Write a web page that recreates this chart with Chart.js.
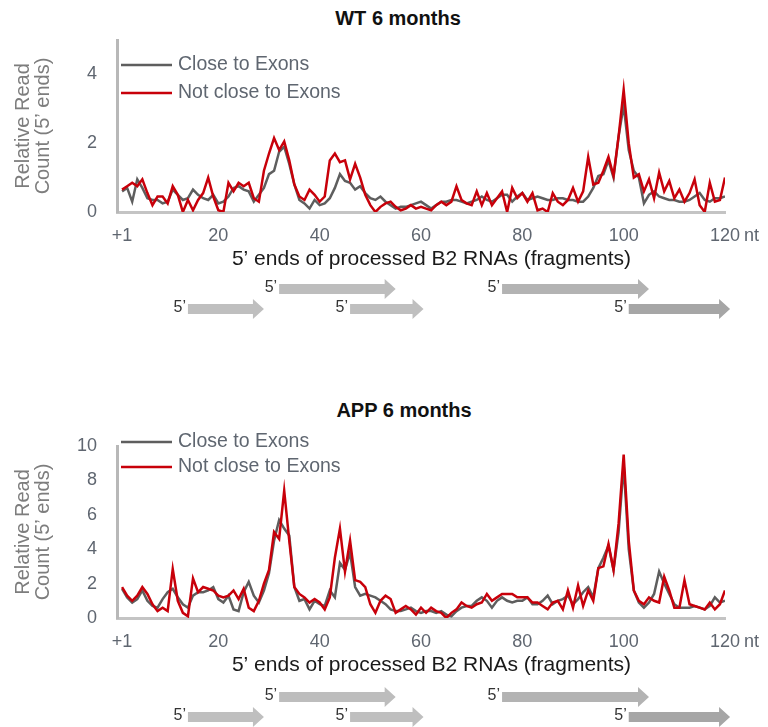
<!DOCTYPE html>
<html>
<head>
<meta charset="utf-8">
<title>5' ends of processed B2 RNAs</title>
<script src="https://cdn.jsdelivr.net/npm/chart.js@4.4.1/dist/chart.umd.min.js"></script>
<style>
  html, body { margin: 0; padding: 0; background: #fff; }
  body { width: 768px; height: 727px; overflow: hidden; position: relative; font-family: "Liberation Sans", Arial, sans-serif; }
  .panel-title { position: absolute; transform: translate(-50%, -50%); font-weight: bold; font-size: 20px; color: #111; white-space: nowrap; }
  canvas { position: absolute; left: 0; }
</style>
</head>
<body>
<div class="panel-title" style="left:398px; top:18px">WT 6 months</div>
<canvas id="wtChart" width="768" height="340" style="top:0"></canvas>
<div class="panel-title" style="left:404px; top:410px">APP 6 months</div>
<canvas id="appChart" width="768" height="340" style="top:406px"></canvas>
<script>
// nt positions 1..120 (x axis categories)
const positions = Array.from({ length: 120 }, (_, i) => i + 1);
const xTicks = [1, 20, 40, 60, 80, 100, 120];
const wtTicks = [0, 2, 4];
const appTicks = [0, 2, 4, 6, 8, 10];

// WT 6 months
const wtClose = [
  0.6, 0.7, 0.3, 0.95, 0.7, 0.4, 0.35, 0.35, 0.25, 0.3,
  0.65, 0.5, 0.35, 0.4, 0.65, 0.5, 0.4, 0.35, 0.5, 0.25,
  0.3, 0.45, 0.7, 0.75, 0.65, 0.6, 0.3, 0.5, 0.7, 1.1,
  1.2, 1.75, 1.9, 1.4, 0.8, 0.35, 0.25, 0.1, 0.35, 0.2,
  0.25, 0.4, 0.7, 1.1, 0.9, 0.85, 0.65, 0.75, 0.55, 0.4,
  0.35, 0.45, 0.3, 0.2, 0.1, 0.15, 0.15, 0.2, 0.25, 0.3,
  0.2, 0.1, 0.2, 0.3, 0.3, 0.35, 0.35, 0.3, 0.25, 0.3,
  0.35, 0.45, 0.35, 0.3, 0.4, 0.5, 0.5, 0.3, 0.45, 0.55,
  0.35, 0.4, 0.45, 0.4, 0.35, 0.35, 0.4, 0.4, 0.35, 0.35,
  0.3, 0.3, 0.45, 0.7, 1.05, 1.1, 1.5, 1.0, 2.2, 3.1,
  1.8, 1.2, 1.0, 0.25, 0.5, 0.6, 0.45, 0.4, 0.35, 0.35,
  0.3, 0.3, 0.35, 0.45, 0.55, 0.35, 0.3, 0.4, 0.4, 0.45
];
const wtNotClose = [
  0.65, 0.75, 0.85, 0.75, 0.95, 0.55, 0.2, 0.45, 0.45, 0.25,
  0.75, 0.5, 0.0, 0.35, 0.05, 0.35, 0.55, 1.0, 0.45, 0.05,
  0.0, 0.85, 0.6, 0.85, 0.75, 0.85, 0.4, 0.3, 1.2, 1.7,
  2.15, 1.8, 2.05, 1.5, 0.8, 0.45, 0.35, 0.65, 0.5, 0.3,
  0.45, 1.5, 1.7, 1.45, 1.5, 0.95, 1.4, 1.0, 0.5, 0.2,
  0.0, 0.15, 0.25, 0.3, 0.15, 0.05, 0.1, 0.2, 0.1, 0.15,
  0.1, 0.05, 0.2, 0.3, 0.2, 0.3, 0.75, 0.35, 0.25, 0.2,
  0.6, 0.2, 0.55, 0.2, 0.4, 0.6, 0.0, 0.7, 0.4, 0.55,
  0.3, 0.55, 0.05, 0.1, 0.0, 0.55, 0.3, 0.2, 0.35, 0.7,
  0.3, 0.6, 1.6, 0.8, 0.85, 1.2, 1.6, 1.05, 2.2, 3.55,
  2.0, 1.0, 1.1, 0.6, 0.95, 0.4, 1.15, 0.6, 0.9, 0.4,
  0.65, 0.3, 0.55, 0.95, 0.2, 0.0, 0.85, 0.3, 0.35, 1.0
];

// APP 6 months
const appClose = [
  1.7, 1.2, 0.9, 1.1, 1.6, 1.0, 0.7, 0.6, 1.1, 1.5,
  1.7, 1.2, 0.8, 0.6, 1.3, 1.5, 1.5, 1.6, 1.8, 1.1,
  0.9, 1.3, 0.5, 0.4, 1.5, 2.1, 1.3, 0.9, 1.6, 2.6,
  4.5, 5.7, 5.2, 4.8, 1.8, 1.0, 1.1, 0.5, 1.0, 0.8,
  0.7, 1.6, 1.2, 3.2, 2.8, 3.8, 1.8, 1.3, 1.4, 1.3,
  1.2, 1.0, 0.8, 0.5, 0.4, 0.4, 0.5, 0.6, 0.4, 0.3,
  0.4, 0.4, 0.3, 0.4, 0.2, 0.1, 0.4, 0.6, 0.7, 0.7,
  1.0, 1.2, 1.0, 0.6, 1.0, 1.2, 1.0, 0.9, 1.0, 1.0,
  1.2, 0.8, 0.8, 1.0, 1.3, 0.8, 1.0, 1.1, 1.3, 0.8,
  1.1, 1.5, 1.8, 1.2, 2.9, 3.5, 4.2, 2.8, 5.0, 8.9,
  4.0, 1.6, 0.9, 0.6, 0.9, 1.4, 2.7, 2.0, 1.4, 0.8,
  0.6, 0.6, 0.6, 0.7, 0.6, 0.5, 0.7, 1.2, 0.9, 1.0
];
const appNotClose = [
  1.8, 1.3, 1.0, 1.3, 1.8, 1.4, 0.8, 0.4, 0.6, 0.4,
  2.85, 1.0, 0.3, 0.1, 2.3, 1.5, 1.8, 1.7, 1.6, 1.3,
  1.2, 1.3, 1.6, 1.1, 1.7, 0.6, 0.4, 1.0, 2.0, 2.8,
  5.0, 4.6, 7.4, 4.5, 1.8, 1.4, 1.2, 0.9, 1.1, 0.9,
  0.5, 1.2, 3.5, 5.2, 2.7, 4.5, 2.2, 2.1, 1.8, 0.8,
  0.3, 1.0, 1.3, 1.1, 0.3, 0.5, 0.7, 0.5, 0.2, 0.6,
  0.3, 0.6, 0.4, 0.3, 0.0, 0.3, 0.5, 0.9, 0.7, 0.6,
  0.8, 0.9, 1.4, 1.0, 1.2, 1.4, 1.4, 1.4, 1.2, 1.2,
  1.2, 0.9, 0.9, 0.7, 0.5, 0.9, 1.0, 0.5, 1.6, 0.6,
  1.9, 0.7, 1.6, 1.0, 2.9, 3.0, 4.3, 2.8, 5.5, 9.5,
  4.5, 1.6, 1.0, 0.8, 1.2, 1.0, 0.9, 2.4, 1.6, 0.6,
  0.6, 2.2, 0.8, 0.7, 0.6, 0.5, 0.9, 0.5, 0.8, 1.6
];

// processed fragments (nt where the 5' end starts / arrow ends)
const fragStart = [14, 32, 46, 76, 101];
const fragEnd = [29, 55, 60.5, 105, 121];

const FONT = '"Liberation Sans", Arial, sans-serif';
const arrowShades = ['#bfbfbf', '#bdbdbd', '#bfbfbf', '#b3b3b3', '#a6a6a6'];

// legend lines sitting inside the plot, top left
const legendLines = {
  id: 'legendLines',
  afterDatasetsDraw(chart, args, opts) {
    const { ctx, chartArea } = chart;
    ctx.save();
    ctx.font = '19.5px ' + FONT;
    ctx.textBaseline = 'middle';
    ctx.textAlign = 'left';
    chart.data.datasets.forEach((ds, i) => {
      const y = chartArea.top + opts.top + i * opts.gap;
      ctx.strokeStyle = ds.borderColor;
      ctx.lineWidth = 2.5;
      ctx.beginPath();
      ctx.moveTo(chartArea.left + 4, y);
      ctx.lineTo(chartArea.left + 55, y);
      ctx.stroke();
      ctx.fillStyle = '#5f6670';
      ctx.fillText(ds.label, chartArea.left + 61, y);
    });
    ctx.restore();
  }
};

// fragment arrows under the axis, plus the "nt" unit
const fragments = {
  id: 'fragments',
  afterDraw(chart, args, opts) {
    const { ctx, chartArea, scales: { x } } = chart;
    ctx.save();
    fragStart.forEach((s, i) => {
      const x0 = x.getPixelForValue(s);
      const x1 = x.getPixelForValue(fragEnd[i]);
      const y = chartArea.bottom + opts.offset + ((i + 1) % 2) * 20;
      ctx.fillStyle = arrowShades[i];
      ctx.beginPath();
      ctx.moveTo(x0, y - 5);
      ctx.lineTo(x1 - 11, y - 5);
      ctx.lineTo(x1 - 11, y - 10);
      ctx.lineTo(x1, y);
      ctx.lineTo(x1 - 11, y + 10);
      ctx.lineTo(x1 - 11, y + 5);
      ctx.lineTo(x0, y + 5);
      ctx.closePath();
      ctx.fill();
      ctx.fillStyle = '#333';
      ctx.font = '16px ' + FONT;
      ctx.textAlign = 'right';
      ctx.textBaseline = 'middle';
      ctx.fillText('5\u2019', x0 - 2, y - 1);
    });
    ctx.fillStyle = '#5f6670';
    ctx.font = '18px ' + FONT;
    ctx.textAlign = 'left';
    ctx.textBaseline = 'middle';
    ctx.fillText('nt', x.getPixelForValue(120) + 19, chartArea.bottom + 24);
    ctx.restore();
  }
};

function makeChart(id, close, notClose, yMax, yTicks, legendOpts, arrowOffset) {
  return new Chart(document.getElementById(id), {
    type: 'line',
    data: {
      labels: positions,
      datasets: [
        {
          label: 'Close to Exons',
          data: close,
          borderColor: '#5e5e5e',
          borderWidth: 2.5,
          order: 2,
        },
        {
          label: 'Not close to Exons',
          data: notClose,
          borderColor: '#c8000a',
          borderWidth: 2.5,
          order: 1,
        },
      ],
    },
    options: {
      responsive: false,
      animation: false,
      layout: { padding: { top: 40, left: 0, right: 43, bottom: 0 } },
      elements: { point: { radius: 0 }, line: { tension: 0 } },
      plugins: {
        legend: { display: false },
        tooltip: { enabled: false },
        legendLines: legendOpts,
        fragments: { offset: arrowOffset },
      },
      scales: {
        x: {
          type: 'linear',
          min: 0,
          max: 120,
          grid: { display: false, drawTicks: false },
          border: { color: '#c4c4c4', width: 3 },
          afterBuildTicks: (scale) => { scale.ticks = xTicks.map(v => ({ value: v })); },
          afterFit: (scale) => { scale.height = 128; },
          ticks: {
            padding: 13,
            maxRotation: 0,
            autoSkip: false,
            color: '#5f6670',
            font: { family: FONT, size: 18 },
            callback: (v) => (v === 1 ? '+1' : v),
          },
          title: {
            display: true,
            // leading em space nudges the centred title right, as in the figure
            text: '\u20035\u2019 ends of processed B2 RNAs (fragments)',
            color: '#1a1a1a',
            font: { family: FONT, size: 21 },
            padding: { top: 0, bottom: 68 },
          },
        },
        y: {
          min: 0,
          max: yMax,
          grid: { display: false, drawTicks: false },
          border: { color: '#b8b8b8', width: 3 },
          afterBuildTicks: (scale) => { scale.ticks = yTicks.map(v => ({ value: v })); },
          afterFit: (scale) => { scale.width = 117; },
          ticks: {
            padding: 20,
            color: '#5f6670',
            font: { family: FONT, size: 18 },
          },
          title: {
            display: true,
            text: ['Relative Read', 'Count (5\u2019 ends)'],
            color: '#7d7d7d',
            font: { family: FONT, size: 20, lineHeight: 1 },
            padding: { top: 13, bottom: 0 },
          },
        },
      },
    },
    plugins: [legendLines, fragments],
  });
}

makeChart('wtChart', wtClose, wtNotClose, 5, wtTicks, { top: 25, gap: 28 }, 77);
makeChart('appChart', appClose, appNotClose, 10, appTicks, { top: -4, gap: 25 }, 79);
</script>
</body>
</html>
